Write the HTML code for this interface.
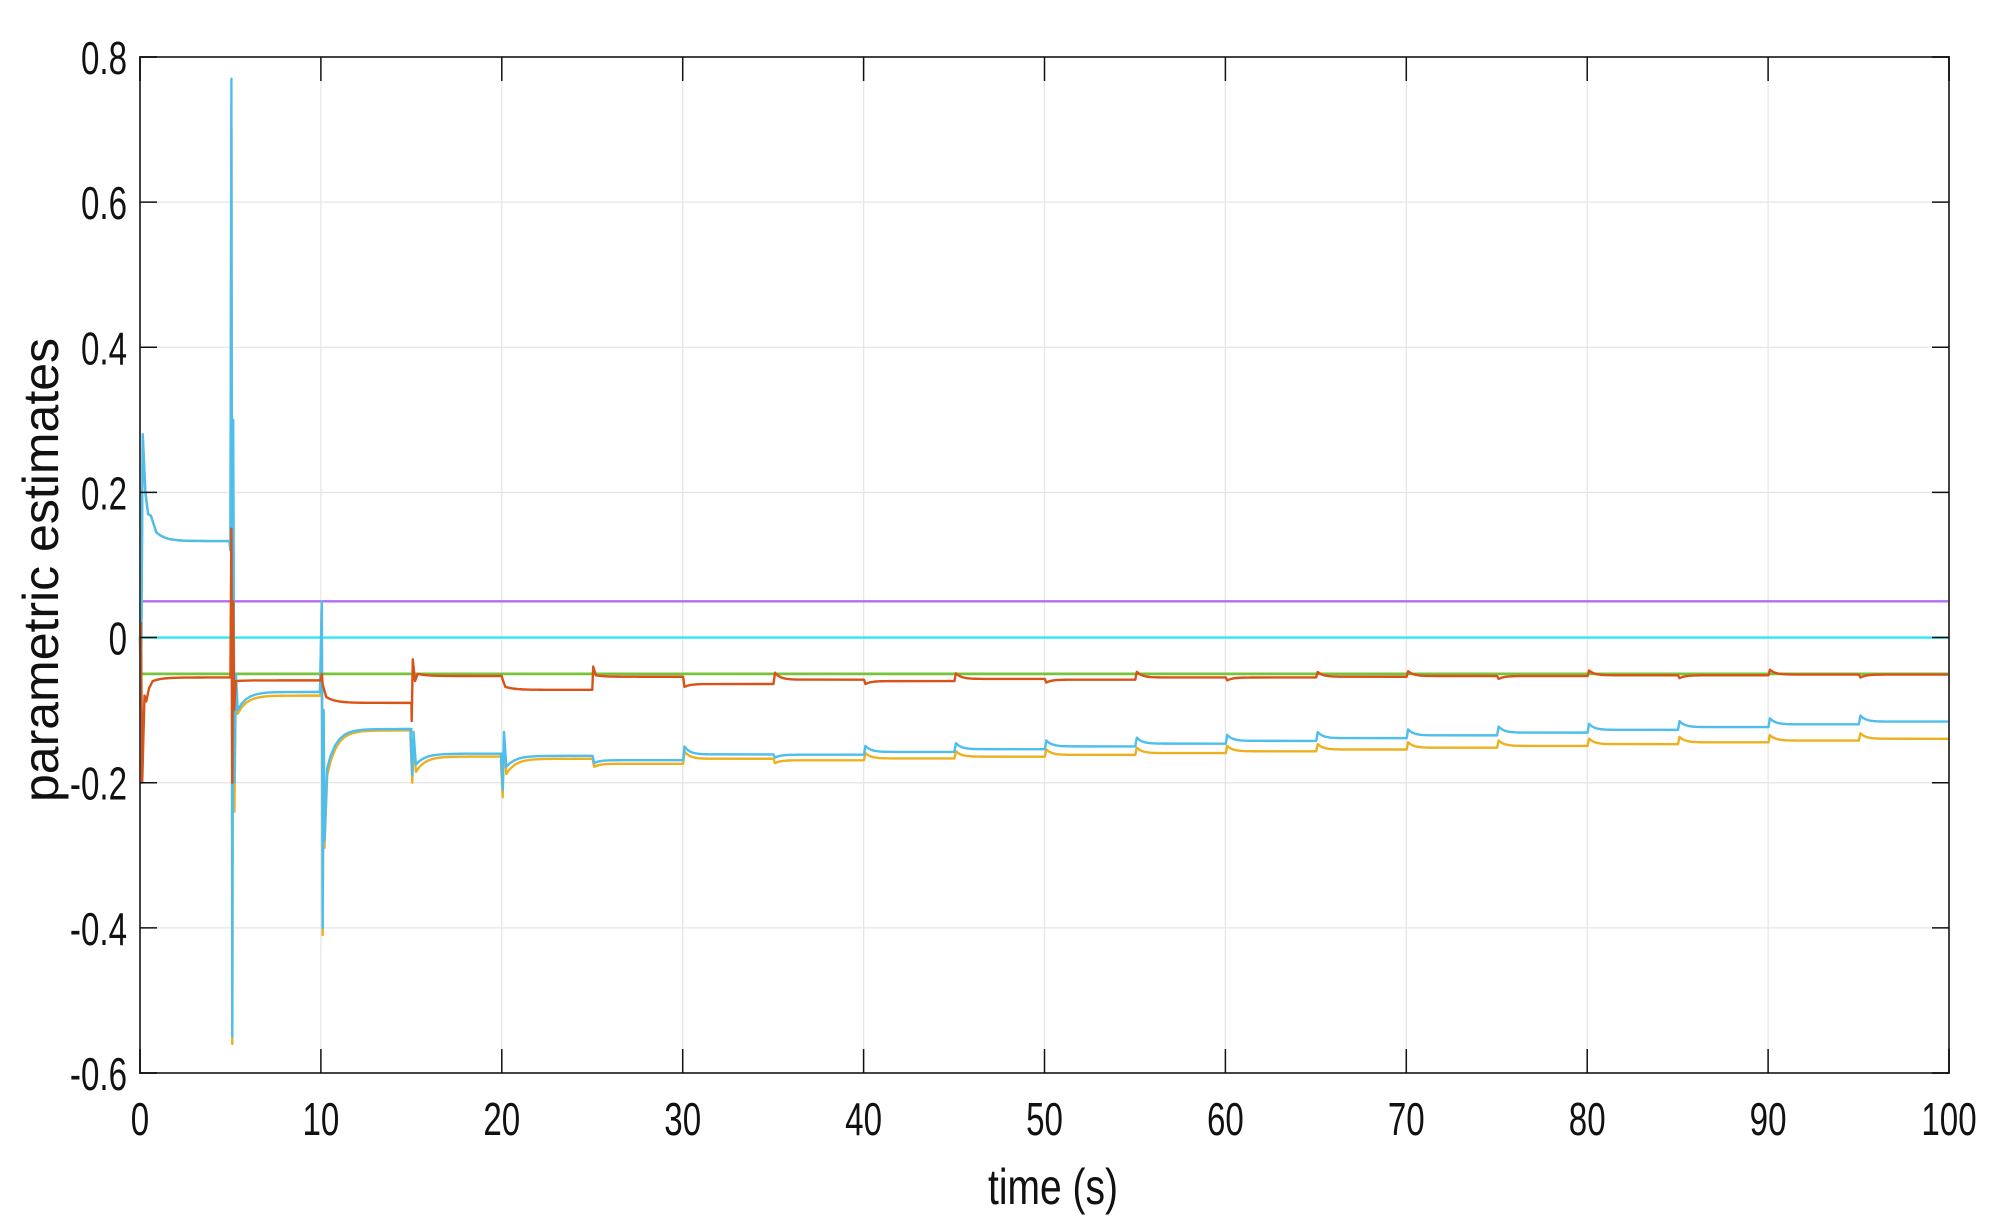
<!DOCTYPE html><html><head><meta charset="utf-8"><style>body{margin:0;background:#fff}svg{display:block}text{font-family:"Liberation Sans",sans-serif;fill:#111}</style></head><body>
<svg id="s" width="1999" height="1226" xmlns="http://www.w3.org/2000/svg"></svg>
<script>
const s=document.getElementById('s');
const X=t=>140+t*18.09, Y=v=>57+(0.8-v)*725.7;
let h='';
for(let i=1;i<10;i++)h+=`<line x1="${X(i*10)}" y1="57" x2="${X(i*10)}" y2="1073" stroke="#e6e6e6" stroke-width="1.3"/>`;
for(let v=-0.4;v<0.79;v+=0.2)h+=`<line x1="140" y1="${Y(v)}" x2="1949" y2="${Y(v)}" stroke="#e6e6e6" stroke-width="1.3"/>`;
function path(pts,c,w){return `<polyline fill="none" stroke="${c}" stroke-width="${w||2.4}" stroke-linejoin="round" points="${pts.map(p=>X(p[0]).toFixed(1)+','+Y(p[1]).toFixed(2)).join(' ')}"/>`;}
h+=path([[0,0.05],[100,0.05]],'#b36cf2');
h+=path([[0,0],[100,0]],'#2ee8f2');
h+=path([[0,-0.05],[100,-0.05]],'#77c43a',2.8);
function lin(a,b,t){return a+(b-a)*(t-25)/75;}
const ob=[-0.055,-0.059,-0.09,-0.053,-0.072,-0.054,-0.064,-0.058,-0.06,-0.057,-0.058,-0.055,-0.055,-0.054,-0.053,-0.053,-0.052,-0.052,-0.051,-0.051];
const bb=[0.133,-0.075,-0.126,-0.16,-0.163,-0.169,-0.161],yb=[0.133,-0.08,-0.128,-0.164,-0.167,-0.174,-0.167];
for(let k=7;k<20;k++){bb[k]=lin(-0.169,-0.112,k*5);yb[k]=lin(-0.174,-0.137,k*5);}
function series(arr,spk){let p=[];
 for(let k=0;k<20;k++){const t0=k*5,v=arr[k],prev=k?arr[k-1]:0;let last;
  if(spk[k]){spk[k].forEach(q=>p.push([t0+q[0],q[1]]));last=spk[k][spk[k].length-1];
    const d=last[1]-v;for(let t=last[0]+0.2;t<5;t+=0.25)p.push([t0+t,v+d*Math.exp(-(t-last[0])/0.5)]);}
  else{const up=prev<v;const d=up?(v-prev)*0.6+0.006:-0.004;
    p.push([t0+0.02,prev]);p.push([t0+0.1,v+d]);
    for(let t=0.25;t<1.6;t+=0.15)p.push([t0+t,v+d*Math.exp(-(t-0.1)/0.3)]);}
  p.push([t0+5,v]);}
 return p;}
const os={0:[[0,0],[0.05,0.02],[0.12,-0.2],[0.25,-0.08],[0.35,-0.088],[0.5,-0.07],[0.7,-0.06]],
 1:[[0,-0.055],[0.05,0.15],[0.1,-0.2],[0.15,0.05],[0.2,-0.1],[0.3,-0.06]],
 2:[[0,-0.059],[0.05,-0.05],[0.1,-0.065],[0.3,-0.082]],
 3:[[0,-0.09],[0.02,-0.115],[0.08,-0.03],[0.2,-0.06],[0.35,-0.05]],
 4:[[0,-0.053],[0.05,-0.058],[0.2,-0.068]],
 5:[[0,-0.072],[0.05,-0.04],[0.2,-0.052]]};
const bs={0:[[0,0],[0.05,-0.1],[0.15,0.28],[0.3,0.2],[0.45,0.17],[0.6,0.168],[0.9,0.145]],
 1:[[-0.05,0.133],[0.0,0.12],[0.05,0.77],[0.1,-0.55],[0.15,0.3],[0.22,-0.2],[0.3,-0.05],[0.4,-0.1]],
 2:[[-0.05,-0.075],[0.05,0.05],[0.1,-0.4],[0.15,-0.1],[0.2,-0.28],[0.35,-0.18]],
 3:[[-0.05,-0.126],[0.05,-0.19],[0.12,-0.13],[0.25,-0.175]],
 4:[[-0.05,-0.16],[0.05,-0.21],[0.12,-0.13],[0.25,-0.178]]};
const ys={};for(const k in bs)ys[k]=bs[k].map(q=>[q[0],q[1]<-0.1?q[1]-0.01:q[1]]);
ys[1]=[[-0.05,0.133],[0,0.12],[0.05,0.7],[0.1,-0.56],[0.15,0.25],[0.22,-0.24],[0.3,-0.06],[0.4,-0.105]];
h+=path(series(yb,ys),'#edb120');
h+=path(series(bb,bs),'#4dbeee');
h+=path(series(ob,os),'#d95319');
h+=`<rect x="140" y="57" width="1809" height="1016" fill="none" stroke="#444" stroke-width="2"/>`;
for(let i=0;i<=10;i++){const x=X(i*10);h+=`<line x1="${x}" y1="1073" x2="${x}" y2="1049" stroke="#111" stroke-width="1.5"/><line x1="${x}" y1="57" x2="${x}" y2="81" stroke="#111" stroke-width="1.5"/>`;
 h+=`<text transform="translate(${x},1135) scale(0.72,1)" text-anchor="middle" font-size="46">${i*10}</text>`;}
const yl=['0.8','0.6','0.4','0.2','0','-0.2','-0.4','-0.6'];
yl.forEach((l,i)=>{const y=Y(0.8-i*0.2);h+=`<line x1="140" y1="${y}" x2="157" y2="${y}" stroke="#111" stroke-width="1.5"/><line x1="1949" y1="${y}" x2="1932" y2="${y}" stroke="#111" stroke-width="1.5"/>`;
 h+=`<text transform="translate(127,${y+17}) scale(0.72,1)" text-anchor="end" font-size="46">${l}</text>`;});
h+=`<text transform="translate(1053,1204) scale(0.78,1)" text-anchor="middle" font-size="50">time (s)</text>`;
h+=`<text transform="translate(58,570) rotate(-90)" text-anchor="middle" font-size="50">parametric estimates</text>`;
s.innerHTML=h;
</script></body></html>
